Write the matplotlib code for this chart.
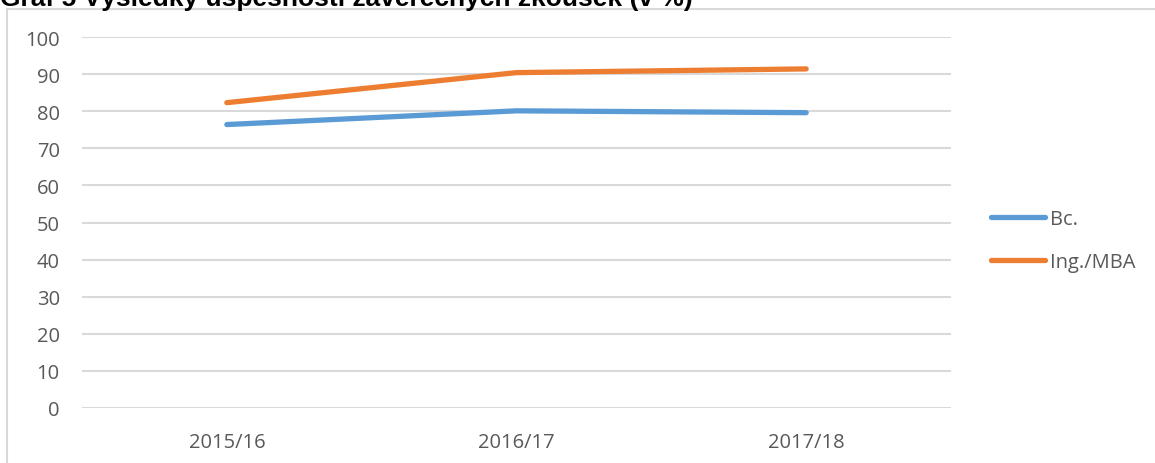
import matplotlib.pyplot as plt
from matplotlib.lines import Line2D

# data
years = ['2015/16', '2016/17', '2017/18']
bc = [76.4, 80.1, 79.6]
ing_mba = [82.3, 90.4, 91.4]
yticks = [0, 10, 20, 30, 40, 50, 60, 70, 80, 90, 100]

plt.rcParams['font.family'] = ['Open Sans', 'DejaVu Sans']

W, H = 1155, 464
fig = plt.figure(figsize=(W / 100, H / 100), dpi=100)

# plot area in pixels: x 82..951, y 38..409
ax = fig.add_axes([82 / W, 1 - 409 / H, (951 - 82) / W, (409 - 38) / H])

x = range(len(years))
ax.plot(x, bc, color='#5B9BD5', lw=3.8, solid_capstyle='round', label='Bc.')
ax.plot(x, ing_mba, color='#ED7D31', lw=3.8, solid_capstyle='round', label='Ing./MBA')

ax.set_xlim(-0.5, len(years) - 0.5)
ax.set_ylim(0, 100)
ax.set_yticks(yticks)
ax.set_xticks(list(x))
ax.set_xticklabels(years)
ax.yaxis.grid(True, color='#d9d9d9', lw=1.5)
ax.set_axisbelow(True)
for s in ax.spines.values():
    s.set_visible(False)
ax.tick_params(length=0, labelsize=14.5, labelcolor='#595959')
ax.tick_params(axis='y', pad=16)
ax.tick_params(axis='x', pad=17)

fig.legend(loc='upper left', bbox_to_anchor=(983 / W, 1 - 202 / H), frameon=False,
           fontsize=14.5, labelcolor='#595959', handlelength=2.7, handletextpad=0.25,
           labelspacing=1.15, borderaxespad=0, borderpad=0.4)

# chart frame (left and top edges visible)
fig.add_artist(Line2D([7 / W, 7 / W], [0, 1 - 10 / H], transform=fig.transFigure,
                      color='#d9d9d9', lw=1.5))
fig.add_artist(Line2D([7 / W, 1], [1 - 10 / H, 1 - 10 / H], transform=fig.transFigure,
                      color='#d9d9d9', lw=1.5))

# title, cut off at the top like in the reference
fig.text(0, 1 - 6 / H, 'Graf 5 Výsledky úspěšnosti závěrečných zkoušek (v %)',
         fontsize=19, fontweight='bold', color='black', ha='left', va='baseline',
         family=['Liberation Sans', 'DejaVu Sans'])

fig.savefig('out.png', dpi=100)
